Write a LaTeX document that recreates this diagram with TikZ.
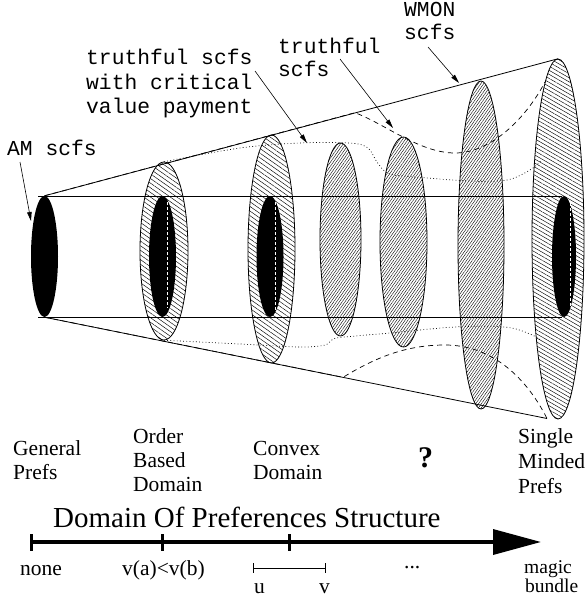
\documentclass[tikz,border=0pt]{standalone}
\usepackage{fontspec}
\setmainfont{Liberation Serif}
\newfontfamily\monofam{Liberation Mono}
\usetikzlibrary{shapes.geometric,patterns.meta,arrows.meta}
\newcommand\lblfnt{\fontsize{21.5}{24}\selectfont}
\newcommand\smallfnt{\fontsize{19.5}{20}\selectfont}
\newcommand\monofnt{\monofam\fontsize{21.3}{24}\selectfont}
\begin{document}
\begin{tikzpicture}[x=1pt,y=-1pt,
  cone/.style={line width=0.8pt},
  hatchA/.style={ellipse,inner sep=0pt,draw,line width=0.8pt,
     pattern={Lines[angle=-35,distance=3.8pt,line width=0.45pt]}},
  hatchC/.style={ellipse,inner sep=0pt,draw,line width=0.8pt,
     pattern={Lines[angle=-30,distance=3.5pt,line width=0.45pt]}},
  hatchB/.style={ellipse,inner sep=0pt,draw,line width=0.8pt,
     pattern={Lines[angle=55,distance=2.3pt,line width=0.4pt]}},
  core/.style={ellipse,inner sep=0pt,fill=black,minimum width=27pt,minimum height=121pt},
  glint/.style={white,line width=0.6pt,dash pattern=on 3pt off 2pt},
  wmon/.style={line width=0.7pt,dash pattern=on 5pt off 4pt},
  crit/.style={line width=0.7pt,dash pattern=on 0.8pt off 2.4pt},
  leader/.style={line width=0.6pt,-{Triangle[length=9pt,width=4.5pt]}},
  mono/.style={font=\monofnt,inner sep=0pt,anchor=base west},
  lbl/.style={font=\lblfnt,inner sep=0pt,anchor=base west},
  lblsmall/.style={font=\smallfnt,inner sep=0pt,anchor=base west},
  axisline/.style={line width=3.5pt},
  tick/.style={line width=3pt},
  thin/.style={line width=0.9pt}]
\useasboundingbox (0,0) rectangle (586,602);

% coordinates
\coordinate (hl1) at (38,196.5);
\coordinate (hr1) at (562,196.5);
\coordinate (hl2) at (38,317);
\coordinate (hr2) at (562,317);
\coordinate (cbot) at (547,418.5);

% hatched ellipses
\node[hatchA,minimum width=48pt,minimum height=178pt] (e2) at (164,251) {};
\node[hatchA,minimum width=47pt,minimum height=228pt] (e3) at (271.5,249) {};
\node[hatchB,minimum width=41pt,minimum height=193pt] (e4) at (340.5,239.5) {};
\node[hatchB,minimum width=47pt,minimum height=210pt] (e5) at (403.5,242) {};
\node[hatchB,minimum width=46pt,minimum height=328pt] (e6) at (481,245) {};
\node[hatchC,minimum width=52pt,minimum height=360pt] (e7) at (558,239) {};

% black cores
\node[core] (am) at (44.5,256.5) {};
\node[core] (c2) at (162.5,256.5) {};
\node[core] (c3) at (270,256.5) {};
\node[core,minimum width=24pt] (c7) at (564,256.5) {};
\draw[glint] (167,202) -- (167,308);
\draw[glint] (275,202) -- (275,310);
\draw[glint] (570,203) -- (570,307);

% cylinder and cone
\draw[cone] (hl1) -- (hr1);
\draw[cone] (hl2) -- (hr2);
\draw[cone] (am.north) -- (e7.north);
\draw[cone] (am.south) -- (cbot);

% dashed region (truthful scfs)
\coordinate (dt) at (355,112.7);
\coordinate (db) at (343,377.3);
\draw[wmon] (am.north) -- (dt) .. controls (385,124) and (420,153) .. (455,153)
   .. controls (490,153) and (525,120) .. (545,82);
\draw[wmon] (am.south) -- (db) .. controls (375,358) and (405,345) .. (445,345)
   .. controls (490,345) and (525,375) .. (cbot);

% dotted region (critical value payment)
\draw[crit] plot[smooth,tension=0.55] coordinates {(e2.north) (240,148) (300,143) (350,143)
   (368,148) (377,162) (390,174) (427,178) (470,181) (507,180) (530,170) (542,160)};
\draw[crit] plot[smooth,tension=0.55] coordinates {(e2.south) (240,344) (300,347) (325,345)
   (333,339) (345,337) (390,333) (455,327) (505,327) (530,334) (542,341)};

% mono labels
\node[mono] (amA) at (7,155) {AM scfs};
\node[mono] (tcA) at (86,65) {truthful scfs};
\node[mono] (tcB) at (86,89) {with critical};
\node[mono] (tcC) at (86,113) {value payment};
\node[mono] (tsA) at (278,53) {truthful};
\node[mono] (tsB) at (278,76) {scfs};
\node[mono] (wmA) at (404,17) {WMON};
\node[mono] (wmB) at (404,40) {scfs};

% leaders
\coordinate (amS) at (20,162);  \coordinate (amT) at (31,221);
\coordinate (tcS) at (255,71);  \coordinate (tcT) at (307,143);
\coordinate (tsS) at (340,59);  \coordinate (tsT) at (393,128);
\coordinate (wmS) at (428,47);  \coordinate (wmT) at (459,83);
\draw[leader] (amS) -- (amT);
\draw[leader] (tcS) -- (tcT);
\draw[leader] (tsS) -- (tsT);
\draw[leader] (wmS) -- (wmT);

% domain labels
\node[lbl] (g1) at (13,455) {General};
\node[lbl] (g2) at (13,479) {Prefs};
\node[lbl] (o1) at (133,443) {Order};
\node[lbl] (o2) at (133,467) {Based};
\node[lbl] (o3) at (133,491) {Domain};
\node[lbl] (cv1) at (253,455) {Convex};
\node[lbl] (cv2) at (253,479) {Domain};
\node[font=\fontsize{30}{30}\selectfont\bfseries,inner sep=0pt,anchor=base west] (q) at (418,467) {?};
\node[lbl] (s1) at (518,443) {Single};
\node[lbl] (s2) at (518,468) {Minded};
\node[lbl] (s3) at (518,493) {Prefs};

% axis
\node[font=\fontsize{29}{30}\selectfont,inner sep=0pt,anchor=base west] (title) at (53,527) {Domain Of Preferences Structure};
\coordinate (ax0) at (31,542);
\coordinate (ax1) at (541,542);
\draw[axisline,-{Triangle[length=48pt,width=25pt]}] (ax0) -- (ax1);
\draw[tick] (31,534) -- (31,551);
\draw[tick] (162,534) -- (162,551);
\draw[tick] (289,534) -- (289,551);

\node[lbl] (n0) at (20,575) {none};
\node[lbl] (n1) at (122,575) {v(a)<v(b)};
\coordinate (uu) at (253,568);
\coordinate (vv) at (325,568);
\draw[thin] (uu) -- (vv);
\draw[thin] (253,563) -- (253,573);
\draw[thin] (325,563) -- (325,573);
\node[lbl] (nu) at (254,593) {u};
\node[lbl] (nv) at (319,593) {v};
\node[lbl] (dots) at (404,568) {...};
\node[lblsmall] (mg1) at (524,573) {magic};
\node[lblsmall] (mg2) at (525,592) {bundle};
\end{tikzpicture}
\end{document}
